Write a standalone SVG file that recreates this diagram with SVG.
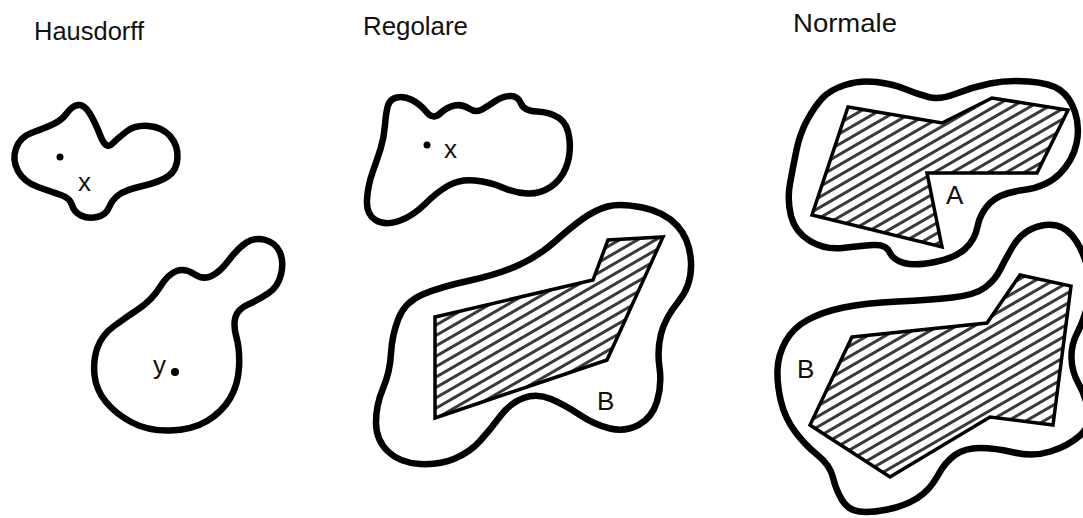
<svg xmlns="http://www.w3.org/2000/svg" width="1083" height="518" viewBox="0 0 1083 518">
  <style>
    .blob { fill: #fff; stroke: #000; stroke-width: 6.5; stroke-linejoin: round; }
    .poly { fill: url(#hatch); stroke: #000; stroke-width: 3.5; stroke-linejoin: miter; }
    .lbl { font-family: "Liberation Sans", Arial, sans-serif; font-size: 26px; fill: #111; }
    .dot { fill: #000; }
  </style>
  <defs>
    <pattern id="hatch" patternUnits="userSpaceOnUse" width="9" height="9" patternTransform="rotate(-30)">
      <rect width="9" height="9" fill="#fff"/>
      <line x1="-1" y1="4.5" x2="10" y2="4.5" stroke="#3a3a3a" stroke-width="3"/>
    </pattern>
  </defs>
  <rect width="1083" height="518" fill="#fff"/>

  <g id="titles">
    <text class="lbl" x="34" y="40" textLength="110" lengthAdjust="spacingAndGlyphs">Hausdorff</text>
    <text class="lbl" x="363" y="35" textLength="105" lengthAdjust="spacingAndGlyphs">Regolare</text>
    <text class="lbl" x="793" y="32" textLength="104" lengthAdjust="spacingAndGlyphs">Normale</text>
  </g>

  <g id="hausdorff-x">
    <path class="blob" d="M16,148.5 Q20,137 32.5,132.5 Q45,128 53.5,124 Q62,120 67,113 Q72,106 78,105 Q84,104 89.5,113 Q95,122 100.5,136 Q106,150 112,144 Q118,138 126.5,131.5 Q135,125 148.5,126 Q162,127 170,136 Q178,145 177.5,157.5 Q177,170 168.5,176 Q160,182 142.5,186 Q125,190 118.5,195 Q112,200 109,207.5 Q106,215 97,217 Q88,219 81,215.5 Q74,212 72,205 Q70,198 61,195 Q52,192 38,187 Q24,182 18,171 Q12,160 16,148.5 Z"/>
    <circle class="dot" cx="60" cy="157" r="3.5"/>
    <text class="lbl" x="78" y="191">x</text>
  </g>

  <g id="hausdorff-y">
    <path class="blob" d="M265.5,240 Q276,243 280,252.5 Q284,262 281,274.5 Q278,287 268,293.5 Q258,300 248,304.5 Q238,309 235.5,317 Q233,325 236.5,337.5 Q240,350 239,367.5 Q238,385 230,398.5 Q222,412 207,421 Q192,430 170,430.5 Q148,431 132,422.5 Q116,414 106,402 Q96,390 94.5,375 Q93,360 97.5,347.5 Q102,335 113.5,326.5 Q125,318 138.5,309 Q152,300 160,287 Q168,274 176.5,271 Q185,268 194,274 Q203,280 211.5,276 Q220,272 229,260 Q238,248 246.5,242.5 Q255,237 265.5,240 Z"/>
    <text class="lbl" x="153" y="374">y</text>
    <circle class="dot" cx="175" cy="372" r="4"/>
  </g>

  <g id="regolare-x">
    <path class="blob" d="M397,97.5 Q404,96 412,100 Q420,104 426.5,112 Q433,120 440,113.5 Q447,107 454.5,105.5 Q462,104 469,108.5 Q476,113 482,109.5 Q488,106 495.5,101 Q503,96 510.5,96 Q518,96 521,103.5 Q524,111 537,111.5 Q550,112 559,118 Q568,124 569.5,139.5 Q571,155 566,167.5 Q561,180 550.5,187 Q540,194 527.5,193.5 Q515,193 502.5,187.5 Q490,182 475,180.5 Q460,179 448.5,185.5 Q437,192 425,204 Q413,216 399,221 Q385,226 375.5,220 Q366,214 367,199.5 Q368,185 372.5,172.5 Q377,160 380.5,149 Q384,138 385,125 Q386,112 388,105.5 Q390,99 397,97.5 Z"/>
    <circle class="dot" cx="427" cy="145" r="3.5"/>
    <text class="lbl" x="444" y="158">x</text>
  </g>

  <g id="regolare-B">
    <path class="blob" d="M642.5,207.5 Q665,212 677.5,226 Q690,240 691,262.5 Q692,285 678.5,301.5 Q665,318 661,334 Q657,350 659.5,367.5 Q662,385 657,401.5 Q652,418 638.5,425 Q625,432 610,428.5 Q595,425 580,415 Q565,405 551,399 Q537,393 523.5,398 Q510,403 500,416.5 Q490,430 480,441 Q470,452 455,458.5 Q440,465 420,464 Q400,463 388,451.5 Q376,440 376,422.5 Q376,405 383,388.5 Q390,372 391,353.5 Q392,335 398.5,318.5 Q405,302 422.5,294.5 Q440,287 470,280.5 Q500,274 520,264.5 Q540,255 555,241.5 Q570,228 582.5,219 Q595,210 607.5,206.5 Q620,203 642.5,207.5 Z"/>
    <polygon class="poly" points="435,317 593,280 608,240 663,237 607,360 435,418"/>
    <text class="lbl" x="597" y="410">B</text>
  </g>

  <g id="normale-A">
    <path class="blob" d="M845,85 Q860,80 876.5,82 Q893,84 905,89 Q917,94 928.5,97 Q940,100 956.5,93.5 Q973,87 990,83.5 Q1007,80 1028.5,81.5 Q1050,83 1060,90 Q1070,97 1075,112 Q1080,127 1076.5,143.5 Q1073,160 1060,173.5 Q1047,187 1023.5,190 Q1000,193 990,203 Q980,213 977.5,226.5 Q975,240 965,249 Q955,258 935,262 Q915,266 904,263 Q893,260 889.5,252 Q886,244 873,245 Q860,246 842.5,248 Q825,250 810,241 Q795,232 791,216 Q787,200 790,183.5 Q793,167 796.5,150 Q800,133 807.5,119.5 Q815,106 822.5,98 Q830,90 845,85 Z"/>
    <polygon class="poly" points="848,107 942,123 992,98 1068,110 1037,173 927,173 942,247 812,215"/>
    <text class="lbl" x="946" y="204">A</text>
  </g>

  <g id="normale-B">
    <path class="blob" d="M1032.5,228.5 Q1045,223 1056.5,225.5 Q1068,228 1076.5,241.5 Q1085,255 1088.5,272.5 Q1092,290 1087.5,306 Q1083,322 1077,333.5 Q1071,345 1071.5,358.5 Q1072,372 1078.5,383.5 Q1085,395 1088.5,410 Q1092,425 1080,435.5 Q1068,446 1050.5,451.5 Q1033,457 1014,452.5 Q995,448 980,448 Q965,448 955,455 Q945,462 937.5,476 Q930,490 917.5,498 Q905,506 887.5,509.5 Q870,513 859,511.5 Q848,510 842,500 Q836,490 833,477.5 Q830,465 817.5,455 Q805,445 795,431.5 Q785,418 781,401.5 Q777,385 777.5,370 Q778,355 785.5,341.5 Q793,328 807.5,320 Q822,312 843.5,307.5 Q865,303 897.5,301.5 Q930,300 952.5,297.5 Q975,295 985,287.5 Q995,280 1000,270 Q1005,260 1012.5,247 Q1020,234 1032.5,228.5 Z"/>
    <polygon class="poly" points="852,337 987,323 1020,275 1071,286 1053,425 990,417 890,477 810,425"/>
    <text class="lbl" x="797" y="378">B</text>
  </g>
</svg>
